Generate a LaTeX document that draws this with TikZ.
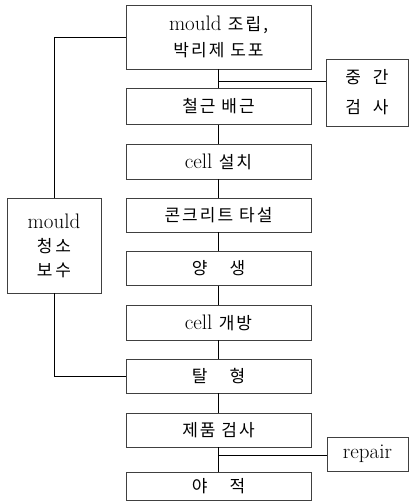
\documentclass[tikz,border=0pt]{standalone}
\usepackage{fontspec}
\newfontfamily\kr[LetterSpace=12]{Noto Sans CJK KR}
\newcommand{\ko}[1]{{\fontsize{17}{22}\kr #1}}
\begin{document}
\begin{tikzpicture}[x=1pt,y=-1pt,
  proc/.style={draw=black!75,line width=0.6pt,minimum width=185pt,inner sep=0pt,
    font=\fontsize{21}{24}\selectfont,align=center},
  side/.style={draw=black!75,line width=0.6pt,inner sep=0pt,
    font=\fontsize{21}{24}\selectfont,align=center},
  link/.style={draw=black,line width=0.9pt}]
\useasboundingbox (0,0) rectangle (410,503);
% main process chain
\node[proc,minimum height=64pt] (p1) at (218.5,37)
  {mould \ko{조립,}\\[2pt]\ko{박리제 도포}};
\node[proc,minimum height=36pt] (p2) at (218.5,106.5) {\ko{철근 배근}};
\node[proc,minimum height=35pt] (p3) at (218.5,161.5) {cell \ko{설치}};
\node[proc,minimum height=34pt] (p4) at (218.5,215) {\ko{콘크리트 타설}};
\node[proc,minimum height=34pt] (p5) at (218.5,268.5) {\ko{양\hspace{22pt}생}};
\node[proc,minimum height=35pt] (p6) at (218.5,322.5) {cell \ko{개방}};
\node[proc,minimum height=34pt] (p7) at (218.5,376) {\ko{탈\hspace{22pt}형}};
\node[proc,minimum height=34pt] (p8) at (218.5,430) {\ko{제품 검사}};
\node[proc,minimum height=28pt] (p9) at (218.5,486.5) {\ko{야\hspace{22pt}적}};
% side boxes
\node[side,minimum width=94pt,minimum height=95pt] (mc) at (54,245.5)
  {mould\\\ko{청\,소}\\\ko{보\,수}};
\node[side,minimum width=82pt,minimum height=67pt] (qc) at (367,92.5)
  {\ko{중\hspace{12pt}간}\\[6pt]\ko{검\hspace{12pt}사}};
\node[side,minimum width=81pt,minimum height=34pt] (rp) at (367.5,454) {repair};
% chain connectors
\foreach \a/\b in {p1/p2,p2/p3,p3/p4,p4/p5,p5/p6,p6/p7,p7/p8,p8/p9}
  \draw[link] (\a.south) -- (\b.north);
% branches to inspection and repair
\coordinate (j1) at (218.5,81);
\draw[link] (j1) -- (j1 -| qc.west);
\coordinate (j2) at (218.5,455);
\draw[link] (j2) -- (j2 -| rp.west);
% mould cleaning loop
\draw[link] (p1.west) -| (mc.north);
\draw[link] (mc.south) |- (p7.west);
\end{tikzpicture}
\end{document}
